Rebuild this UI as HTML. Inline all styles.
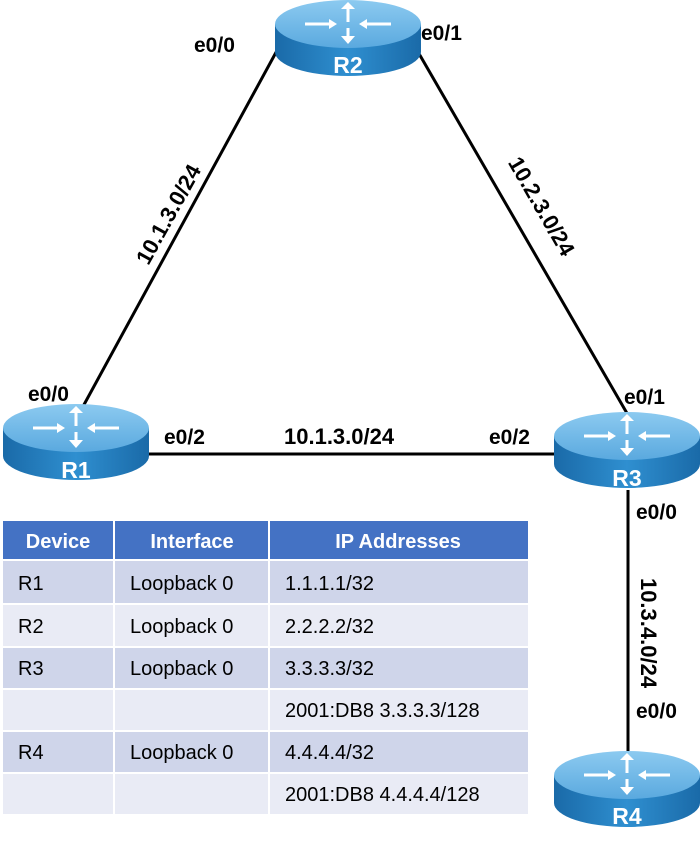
<!DOCTYPE html>
<html><head><style>
body{margin:0;background:#fff;}
svg{display:block;font-family:"Liberation Sans",Arial,sans-serif;}
</style></head><body>
<svg width="700" height="841" viewBox="0 0 700 841" xmlns="http://www.w3.org/2000/svg">
<defs>
<linearGradient id="side" x1="0" x2="1" y1="0" y2="0">
<stop offset="0" stop-color="#1a6aa8"/><stop offset="0.5" stop-color="#2f8fd0"/><stop offset="1" stop-color="#1a6aa8"/>
</linearGradient>
<linearGradient id="top" x1="0" x2="0" y1="0" y2="1">
<stop offset="0" stop-color="#8ccaf0"/><stop offset="1" stop-color="#5aa9df"/>
</linearGradient>
<g id="rt">
<path d="M0 24 L0 52 A73 24 0 0 0 146 52 L146 24 Z" fill="url(#side)"/>
<ellipse cx="73" cy="24" rx="73" ry="24" fill="url(#top)"/>
<g stroke="#fff" stroke-width="3" fill="#fff">
<line x1="73" y1="22" x2="73" y2="6"/><polygon points="66,9 80,9 73,2" stroke="none"/>
<line x1="73" y1="28" x2="73" y2="40"/><polygon points="66,36 80,36 73,44" stroke="none"/>
<line x1="30" y1="24" x2="58" y2="24"/><polygon points="54,19 54,29 62,24" stroke="none"/>
<line x1="88" y1="24" x2="116" y2="24"/><polygon points="92,19 92,29 84,24" stroke="none"/>
</g>
</g>
</defs>
<g stroke="#000" stroke-width="3">
<line x1="80" y1="412" x2="280" y2="45"/>
<line x1="414" y1="45" x2="628" y2="415"/>
<line x1="148" y1="454" x2="556" y2="454"/>
<line x1="628" y1="490" x2="628" y2="755"/>
</g>
<use href="#rt" x="275" y="0"/>
<use href="#rt" x="3" y="404"/>
<use href="#rt" x="554" y="412"/>
<use href="#rt" x="554" y="751"/>
<g fill="#fff" font-weight="bold" font-size="23" text-anchor="middle">
<text x="348" y="73">R2</text><text x="76" y="478">R1</text>
<text x="627" y="486">R3</text><text x="627" y="824">R4</text>
</g>
<g font-weight="bold" font-size="21" fill="#000">
<text x="194" y="52">e0/0</text><text x="421" y="40">e0/1</text>
<text x="28" y="401">e0/0</text><text x="164" y="444">e0/2</text>
<text x="284" y="444" font-size="22">10.1.3.0/24</text><text x="489" y="444">e0/2</text>
<text x="624" y="404">e0/1</text><text x="636" y="519">e0/0</text>
<text x="636" y="718">e0/0</text>
<text transform="translate(175,218) rotate(-61)" text-anchor="middle" font-size="22">10.1.3.0/24</text>
<text transform="translate(535,210) rotate(60)" text-anchor="middle" font-size="22">10.2.3.0/24</text>
<text transform="translate(641,633) rotate(90)" text-anchor="middle" font-size="22">10.3.4.0/24</text>
</g>
<g>
<rect x="3" y="521" width="525" height="38" fill="#4472c4"/>
<rect x="3" y="561" width="525" height="42" fill="#cfd5ea"/>
<rect x="3" y="605" width="525" height="41" fill="#e9ebf5"/>
<rect x="3" y="648" width="525" height="40" fill="#cfd5ea"/>
<rect x="3" y="690" width="525" height="40" fill="#e9ebf5"/>
<rect x="3" y="732" width="525" height="40" fill="#cfd5ea"/>
<rect x="3" y="774" width="525" height="40" fill="#e9ebf5"/>
<g stroke="#fff" stroke-width="2"><line x1="114" y1="521" x2="114" y2="814"/><line x1="269" y1="521" x2="269" y2="814"/></g>
<g fill="#fff" font-weight="bold" font-size="20" text-anchor="middle">
<text x="58" y="548">Device</text><text x="192" y="548">Interface</text><text x="398" y="548">IP Addresses</text>
</g>
<g fill="#000" font-size="20">
<text x="18" y="590">R1</text><text x="130" y="590">Loopback 0</text><text x="285" y="590">1.1.1.1/32</text>
<text x="18" y="633">R2</text><text x="130" y="633">Loopback 0</text><text x="285" y="633">2.2.2.2/32</text>
<text x="18" y="675">R3</text><text x="130" y="675">Loopback 0</text><text x="285" y="675">3.3.3.3/32</text>
<text x="285" y="717">2001:DB8 3.3.3.3/128</text>
<text x="18" y="759">R4</text><text x="130" y="759">Loopback 0</text><text x="285" y="759">4.4.4.4/32</text>
<text x="285" y="801">2001:DB8 4.4.4.4/128</text>
</g>
</g>
</svg>
</body></html>
